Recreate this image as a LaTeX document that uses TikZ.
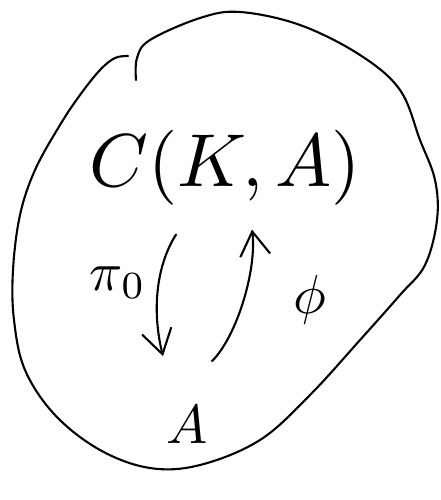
\documentclass[tikz,border=0pt]{standalone}
\usepackage{graphicx}
\usepackage{tikz}
\usetikzlibrary{arrows.meta,calc}

\begin{document}
\begin{tikzpicture}[x=1pt,y=-1pt,line width=2.1pt,line cap=round,line join=round,
   lbl/.style={inner sep=0pt},
   arr/.style={-{Straight Barb[length=24pt,width=30pt,line width=2.1pt]}}]
  \useasboundingbox (0,0) rectangle (440,500);
  % outline of the set
  \draw plot[smooth,tension=0.6] coordinates {(136,80) (137,58) (150,40) (200,18)
    (240,12) (300,25) (360,55) (400,90) (420,140) (435,180) (437,220) (425,265)
    (400,295) (360,340) (310,395) (260,440) (200,465) (150,468) (100,450)
    (55,415) (25,370) (14,320) (13,270) (20,215) (35,170) (60,125) (80,95)
    (100,70) (115,58) (128,56)};
  \node[lbl] (ck) at (225,168) {\scalebox{7.5}{$C(K,A)$}};
  \node[lbl] (a) at (187,425) {\scalebox{5.5}{$A$}};
  \node[lbl] (pi) at (118,283) {\scalebox{5.5}{$\pi_0$}};
  \node[lbl] (phi) at (310,300) {\scalebox{5.5}{$\phi$}};
  \draw[arr] ($(ck.south)+(-49,28)$) .. controls +(-22,35) and +(-10,-40) .. ($(a.north)+(-24,-49)$);
  \draw[arr] ($(a.north)+(25,-44)$) .. controls +(25,-25) and +(5,40) .. ($(ck.south)+(27,23)$);
\end{tikzpicture}
\end{document}
